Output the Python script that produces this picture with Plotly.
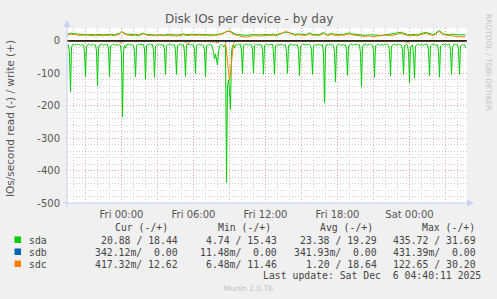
import plotly.graph_objects as go
from datetime import datetime, timedelta

# ---------------- data ----------------
# sda reads, 5-minute samples from Thu 2025-12-04 19:30 to Sat 2025-12-06 04:40 (IO/s)
sda_read = [
    14, 12, 40, 157, 20, 11, 10, 12, 11, 13, 10, 12, 11, 14, 12, 11, 13, 35, 110, 18,
    12, 10, 11, 13, 12, 10, 11, 14, 12, 30, 138, 22, 12, 11, 10, 12, 13, 11, 12, 10,
    11, 28, 110, 16, 12, 11, 10, 13, 12, 11, 12, 14, 11, 13, 45, 234, 30, 14, 22, 12,
    11, 10, 12, 11, 13, 12, 14, 32, 110, 15, 11, 12, 10, 11, 13, 12, 11, 25, 118, 14,
    12, 11, 10, 13, 12, 11, 30, 112, 16, 12, 11, 13, 10, 12, 11, 14, 12, 28, 103, 15,
    11, 12, 10, 11, 13, 12, 11, 12, 30, 103, 14, 12, 11, 10, 12, 13, 11, 35, 110, 13,
    12, 11, 10, 12, 11, 13, 12, 28, 100, 14, 11, 12, 10, 13, 11, 12, 14, 30, 110, 15,
    12, 11, 13, 10, 12, 20, 35, 55, 40, 60, 74, 35, 15, 12, 11, 14, 18, 12, 22, 435.72,
    140, 120, 150, 211, 35, 14, 12, 22, 12, 11, 13, 10, 12, 11, 30, 100, 14, 12, 11, 10,
    12, 13, 11, 10, 12, 28, 100, 15, 12, 11, 13, 12, 10, 11, 12, 30, 103, 14, 11, 12,
    10, 13, 12, 11, 12, 10, 32, 103, 15, 12, 11, 13, 12, 10, 11, 12, 14, 11, 12, 35,
    100, 14, 12, 11, 10, 13, 12, 11, 12, 14, 11, 30, 107, 16, 12, 11, 10, 12, 13, 11,
    12, 11, 10, 13, 28, 103, 15, 12, 11, 13, 12, 10, 11, 12, 14, 11, 40, 190, 22, 12,
    11, 13, 10, 12, 11, 12, 14, 35, 126, 16, 12, 11, 10, 13, 12, 11, 12, 14, 11, 30,
    106, 15, 12, 11, 10, 13, 12, 11, 12, 10, 11, 13, 12, 38, 141, 18, 12, 11, 10, 12,
    13, 11, 12, 10, 11, 14, 30, 112, 15, 12, 11, 10, 13, 12, 11, 12, 14, 11, 12, 10,
    11, 13, 30, 107, 16, 12, 11, 10, 12, 13, 11, 12, 10, 11, 14, 28, 103, 15, 12, 11,
    13, 35, 128, 20, 14, 12, 40, 115, 16, 12, 11, 10, 13, 12, 11, 12, 14, 11, 12, 10,
    11, 30, 107, 15, 12, 11, 10, 13, 12, 11, 12, 32, 112, 16, 12, 11, 10, 12, 13, 11,
    12, 10, 11, 30, 103, 20, 12, 11, 10, 12, 11, 28, 103, 15, 12, 11, 13, 12, 20.88,
]

# writes and sdc reads, 10-minute samples from Thu 19:30 to Sat 04:40
sda_write = [
    21, 23, 24, 22, 23, 21, 20, 19, 20, 21, 19, 20, 19, 18, 19, 20, 19, 18, 19, 20,
    19, 20, 21, 19, 20, 22, 24, 29, 25, 22, 21, 20, 19, 20, 21, 19, 20, 22, 24, 21,
    20, 19, 20, 19, 18, 19, 20, 19, 18, 19, 20, 21, 19, 20, 19, 18, 19, 20, 22, 20,
    19, 20, 21, 20, 19, 20, 21, 19, 20, 21, 20, 19, 18, 19, 20, 21, 20, 22, 25, 28,
    30, 31, 27, 23, 21, 20, 19, 18, 19, 17, 18, 19, 18, 19, 20, 19, 18, 19, 20, 19,
    20, 19, 20, 21, 19, 20, 22, 24, 26, 25, 27, 25, 23, 21, 20, 22, 21, 20, 19, 20,
    22, 25, 22, 20, 21, 19, 20, 22, 26, 22, 20, 21, 24, 21, 20, 19, 20, 21, 20, 22,
    24, 25, 22, 21, 20, 19, 18, 19, 18, 17, 18, 19, 18, 19, 18, 17, 16, 17, 18, 19,
    20, 19, 20, 21, 23, 25, 26, 27, 24, 21, 20, 19, 20, 21, 20, 19, 21, 23, 25, 27,
    25, 22, 21, 20, 23, 29, 31.69, 26, 22, 21, 20, 19, 21, 20, 19, 20, 19, 18, 19, 18.44,
]
sdc_write = [
    18, 19, 21, 19, 20, 18, 17, 16, 17, 18, 16, 17, 16, 15, 16, 17, 16, 15, 16, 17,
    16, 17, 18, 16, 17, 19, 22, 28, 24, 20, 18, 17, 16, 17, 18, 16, 17, 20, 23, 19,
    17, 16, 17, 16, 15, 16, 17, 16, 15, 16, 17, 18, 16, 17, 16, 15, 16, 17, 19, 17,
    16, 17, 18, 17, 16, 17, 18, 16, 17, 18, 17, 16, 15, 16, 17, 18, 17, 20, 24, 27,
    30, 29, 25, 20, 18, 17, 16, 15, 14, 11.46, 13, 15, 15, 16, 17, 16, 15, 16, 17, 16,
    17, 16, 17, 18, 16, 17, 20, 23, 28, 30.2, 27, 24, 21, 19, 17, 19, 18, 17, 16, 17,
    19, 22, 19, 17, 18, 16, 17, 19, 23, 19, 17, 18, 21, 18, 17, 16, 17, 18, 17, 19,
    21, 22, 19, 18, 17, 16, 15, 16, 15, 14, 15, 16, 13, 14, 13, 14, 15, 16, 17, 18,
    17, 16, 17, 18, 20, 22, 23, 24, 21, 18, 17, 16, 17, 18, 17, 16, 18, 20, 22, 24,
    22, 19, 18, 17, 20, 26, 29, 23, 19, 18, 17, 16, 17, 16, 15, 14, 13, 13, 12, 12.62,
]
sdc_read = [
    0.6, 0.9, 1.1, 0.7, 0.5, 0.8, 1.2, 0.6, 0.4, 0.7, 0.9, 0.5, 0.6, 1.0, 0.7, 0.5, 0.8, 0.6, 0.9, 0.7,
    0.5, 0.8, 0.6, 1.1, 0.7, 0.9, 2.5, 8.0, 2.0, 0.8, 0.6, 0.7, 0.5, 0.9, 0.6, 0.8, 0.7, 0.5, 1.0, 0.6,
    0.7, 0.5, 0.8, 0.6, 0.9, 0.7, 0.5, 0.6, 1.0, 0.8, 0.6, 0.7, 0.5, 0.9, 0.6, 0.8, 0.7, 0.6, 1.5, 3.0,
    10.0, 2.5, 0.9, 0.7, 0.6, 0.8, 0.5, 0.7, 0.9, 0.6, 0.8, 0.7, 0.5, 1.2, 3.0, 6.0, 2.0, 1.0, 0.8, 4.0,
    60.0, 122.65, 65.0, 8.0, 2.0, 1.0, 0.8, 0.6, 0.7, 0.5, 0.9, 0.6, 0.8, 0.7, 0.5, 0.6, 0.9, 0.7, 0.5, 0.8,
    0.6, 0.7, 0.9, 0.5, 0.8, 0.6, 0.7, 0.5, 1.0, 0.6, 0.8, 0.7, 0.5, 0.9, 0.6, 0.8, 0.7, 0.5, 0.6, 0.9,
    0.7, 0.5, 0.8, 0.6, 0.9, 0.7, 0.5, 0.6, 0.8, 0.7, 0.9, 0.5, 0.6, 0.8, 0.7, 0.5, 0.9, 0.6, 0.7, 0.8,
    0.5, 0.6, 0.9, 0.7, 0.5, 0.8, 0.6, 0.7, 0.9, 0.5, 0.6, 0.8, 0.7, 0.5, 0.9, 0.6, 0.7, 0.8, 0.5, 0.6,
    0.9, 0.7, 0.5, 0.8, 0.6, 0.7, 0.9, 0.5, 1.2, 2.5, 6.0, 2.0, 0.8, 0.6, 0.7, 0.5, 0.9, 0.6, 0.8, 0.7,
    0.5, 0.6, 0.9, 0.7, 0.5, 0.8, 0.6, 0.7, 0.5, 0.9, 0.6, 0.8, 0.7, 0.5, 0.6, 0.9, 0.7, 0.5, 0.6, 0.417,
]
# sdb, hourly samples from Thu 19:40 to Sat 04:40
sdb_read = [
    0.34, 0.35, 0.34, 0.33, 0.34, 0.35, 0.34, 0.34, 0.33, 0.34, 0.35, 0.34, 0.34, 0.33, 0.34, 0.35, 0.34,
    0.34, 0.33, 0.34, 0.35, 0.34, 0.34, 0.33, 0.34, 0.35, 0.34, 0.34, 0.33, 0.34, 0.35, 0.34, 0.34, 0.342,
]
sdb_write = [
    0, 0, 0, 0, 0, 0, 0, 0, 0, 0, 0, 0, 0, 0, 0, 0, 0,
    0, 0, 0, 0, 0, 0, 0, 0, 0, 0, 0, 0, 0, 0, 0, 0, 0,
]

devices = ["sda", "sdb", "sdc"]
colors = ["#00CC00", "#0066B3", "#FF8000"]
col_headers = ["Cur (-/+)", "Min (-/+)", "Avg (-/+)", "Max (-/+)"]
cur_txt = ["20.88 / 18.44", "342.12m/  0.00", "417.32m/ 12.62"]
min_txt = ["4.74 / 15.43", "11.48m/  0.00", "6.48m/ 11.46"]
avg_txt = ["23.38 / 19.29", "341.93m/  0.00", "1.20 / 18.64"]
max_txt = ["435.72 / 31.69", "431.39m/  0.00", "122.65 / 30.20"]
last_update = "Last update: Sat Dec  6 04:40:11 2025"

x_tickvals = ["2025-12-04 21:00", "2025-12-05 00:00", "2025-12-05 03:00", "2025-12-05 06:00",
              "2025-12-05 09:00", "2025-12-05 12:00", "2025-12-05 15:00", "2025-12-05 18:00",
              "2025-12-05 21:00", "2025-12-06 00:00", "2025-12-06 03:00"]
x_ticktext = ["", "Fri 00:00", "", "Fri 06:00", "", "Fri 12:00", "", "Fri 18:00", "", "Sat 00:00", ""]
y_tickvals = [-500, -400, -300, -200, -100, 0]
y_ticktext = ["-500", "-400", "-300", "-200", "-100", "0"]

# ---------------- time axes ----------------
t5 = [datetime(2025, 12, 4, 19, 30) + timedelta(minutes=5 * k) for k in range(len(sda_read))]
t10 = [datetime(2025, 12, 4, 19, 30) + timedelta(minutes=10 * k) for k in range(len(sda_write))]
t60 = [datetime(2025, 12, 4, 19, 40) + timedelta(hours=k) for k in range(len(sdb_read))]

# ---------------- geometry helpers (pixels -> paper) ----------------
W_IMG, H_IMG = 497, 299
L, T, PW, PH = 67, 28, 400, 175


def px(x):
    return (x - L) / PW


def py(y):
    return (T + PH - y) / PH


fig = go.Figure()
series = [
    (t5, [-v for v in sda_read], colors[0]),
    (t10, sda_write, colors[0]),
    (t60, [-v for v in sdb_read], colors[1]),
    (t60, sdb_write, colors[1]),
    (t10, [-v for v in sdc_read], colors[2]),
    (t10, sdc_write, colors[2]),
]
for tx, ty, c in series:
    fig.add_trace(go.Scatter(x=tx, y=ty, mode="lines", line=dict(color=c, width=1),
                             showlegend=False, hoverinfo="skip"))

grid_major = "#E9A8A8"
grid_minor = "#CFCFCF"
txt_col = "#555555"
axis_col = "#C8D0F2"

fig.update_xaxes(
    range=["2025-12-04 19:27:30", "2025-12-06 04:47:30"],
    tickvals=x_tickvals, ticktext=x_ticktext,
    showgrid=True, gridcolor=grid_major, griddash="1px,2px", gridwidth=1,
    minor=dict(dtick=3600000, tick0="2025-12-05 00:00", showgrid=True,
               gridcolor=grid_minor, griddash="1px,2px", gridwidth=1),
    showline=False, zeroline=False, ticks="",
    tickfont=dict(family="DejaVu Sans", size=10, color=txt_col),
    ticklabelstandoff=4,
)
fig.update_yaxes(
    range=[-500, 40],
    tickvals=y_tickvals, ticktext=y_ticktext,
    showgrid=True, gridcolor=grid_major, griddash="1px,2px", gridwidth=1,
    minor=dict(dtick=20, tick0=0, showgrid=True,
               gridcolor=grid_minor, griddash="1px,2px", gridwidth=1),
    showline=False, zeroline=False, ticks="",
    tickfont=dict(family="DejaVu Sans", size=10, color=txt_col),
    ticklabelstandoff=6,
)

shapes = []
# zero line
shapes.append(dict(type="line", xref="paper", yref="y", x0=0, x1=1, y0=0, y1=0,
                   line=dict(color="#000000", width=1.3), layer="above"))
# axes with arrows
shapes.append(dict(type="line", xref="paper", yref="paper", x0=0, x1=0, y0=py(207), y1=py(24),
                   line=dict(color=axis_col, width=1)))
shapes.append(dict(type="line", xref="paper", yref="paper", x0=px(63), x1=px(469), y0=0, y1=0,
                   line=dict(color=axis_col, width=1)))
shapes.append(dict(type="path", xref="paper", yref="paper",
                   path=f"M {px(67)} {py(20)} L {px(63.5)} {py(27)} L {px(70.5)} {py(27)} Z",
                   fillcolor=axis_col, line=dict(width=0)))
shapes.append(dict(type="path", xref="paper", yref="paper",
                   path=f"M {px(474)} {py(203)} L {px(467)} {py(199.5)} L {px(467)} {py(206.5)} Z",
                   fillcolor=axis_col, line=dict(width=0)))

annotations = []
mono = "DejaVu Sans Mono"
leg_col = "#444444"
MONO_SIZE = 9.8


def nb(s):
    return s.replace(" ", "\u00a0")


# title
annotations.append(dict(text="Disk IOs per device - by day", xref="paper", yref="paper",
                        x=px(248.5), y=py(18.5), xanchor="center", yanchor="middle", showarrow=False,
                        font=dict(family="DejaVu Sans", size=12, color=txt_col)))
# y-axis title
annotations.append(dict(text="IOs/second read (-) / write (+)", xref="paper", yref="paper",
                        x=px(10), y=py(119), xanchor="center", yanchor="middle", showarrow=False,
                        textangle=-90, font=dict(family="DejaVu Sans", size=10.5, color=txt_col)))
# rrdtool watermark
annotations.append(dict(text="RRDTOOL / TOBI OETIKER", xref="paper", yref="paper",
                        x=px(489), y=py(62), xanchor="center", yanchor="middle", showarrow=False,
                        textangle=90, font=dict(family="DejaVu Sans", size=7.5, color="#C4C4C4")))
# legend headers
hdr_right = [169.5, 272.5, 374.5, 476.5]
val_right = [179.5, 278.5, 378.5, 477.5]
for h, xr in zip(col_headers, hdr_right):
    annotations.append(dict(text=nb(h), xref="paper", yref="paper", x=px(xr), y=py(227.5),
                            xanchor="right", yanchor="middle", showarrow=False,
                            font=dict(family=mono, size=MONO_SIZE, color=leg_col)))
row_y = [240, 252, 264]
for k, dev in enumerate(devices):
    yk = row_y[k]
    shapes.append(dict(type="rect", xref="paper", yref="paper", x0=px(14.5), x1=px(21), y0=py(yk - 3.5),
                       y1=py(yk + 3), fillcolor=colors[k], line=dict(width=0)))
    annotations.append(dict(text=dev, xref="paper", yref="paper", x=px(26.5), y=py(yk),
                            xanchor="left", yanchor="middle", showarrow=False,
                            font=dict(family=mono, size=MONO_SIZE, color=leg_col)))
    for txts, xr in zip([cur_txt, min_txt, avg_txt, max_txt], val_right):
        annotations.append(dict(text=nb(txts[k]), xref="paper", yref="paper", x=px(xr), y=py(yk),
                                xanchor="right", yanchor="middle", showarrow=False,
                                font=dict(family=mono, size=MONO_SIZE, color=leg_col)))
annotations.append(dict(text=nb(last_update), xref="paper", yref="paper", x=px(483), y=py(275.5),
                        xanchor="right", yanchor="middle", showarrow=False,
                        font=dict(family=mono, size=MONO_SIZE, color=leg_col)))
annotations.append(dict(text="Munin 2.0.76", xref="paper", yref="paper", x=px(248.5), y=py(288),
                        xanchor="center", yanchor="middle", showarrow=False,
                        font=dict(family="DejaVu Sans", size=7.5, color="#C0C0C0")))

fig.update_layout(
    width=W_IMG, height=H_IMG,
    margin=dict(l=L, r=W_IMG - L - PW, t=T, b=H_IMG - T - PH, pad=0),
    paper_bgcolor="#F0F0F0", plot_bgcolor="#FFFFFF",
    showlegend=False,
    shapes=shapes, annotations=annotations,
)

fig.write_html("out.html")
